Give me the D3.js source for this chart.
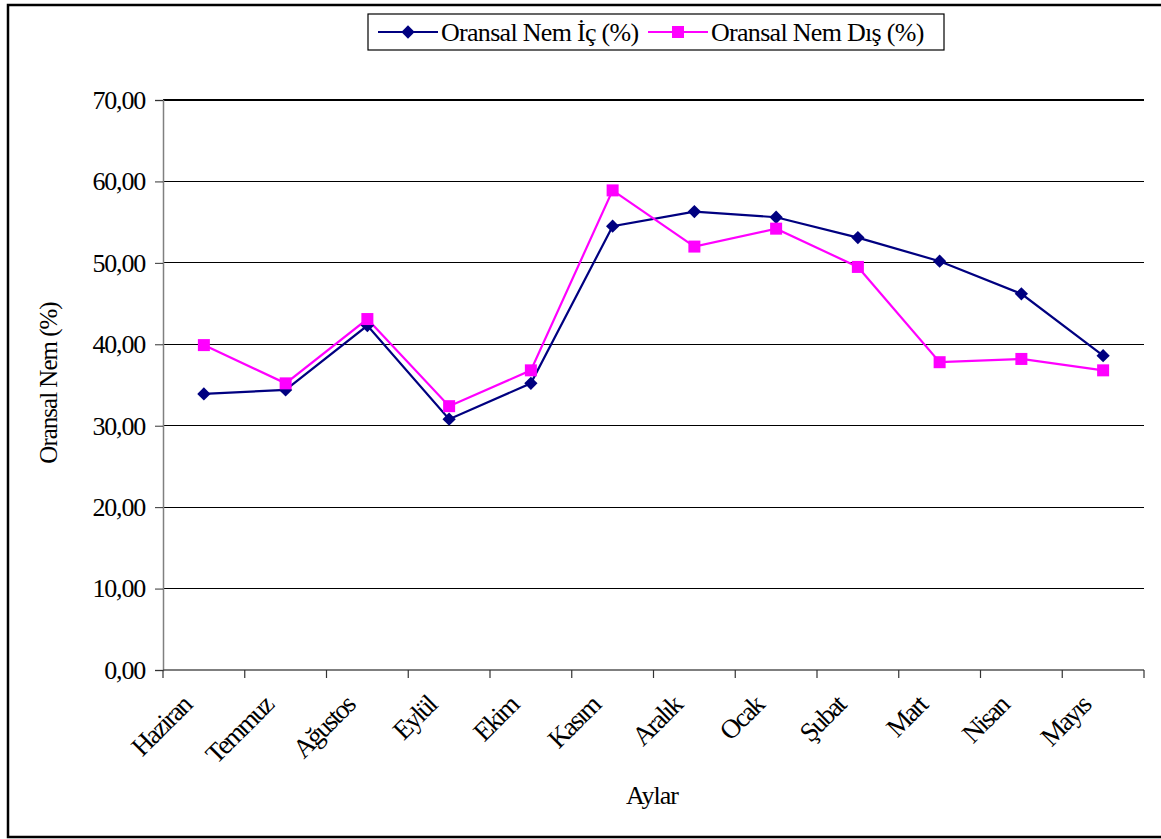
<!DOCTYPE html>
<html><head><meta charset="utf-8">
<script src="https://cdn.jsdelivr.net/npm/d3@7"></script>
<style>
html,body{margin:0;padding:0;background:#fff;}
svg{display:block;}
text{font-family:"Liberation Serif","Times New Roman",serif;fill:#000;}
</style></head>
<body>
<svg id="c" width="1161" height="839"></svg>
<script>
const months = ["Haziran","Temmuz","Ağustos","Eylül","Ekim","Kasım","Aralık","Ocak","Şubat","Mart","Nisan","Mayıs"];
const icValues = [33.9,34.4,42.3,30.8,35.2,54.5,56.3,55.6,53.1,50.2,46.2,38.6];
const disValues = [39.9,35.2,43.1,32.4,36.8,58.9,52.0,54.2,49.5,37.8,38.2,36.8];
const yTicks = [0,10,20,30,40,50,60,70];
const seriesNames = ["Oransal Nem İç (%)","Oransal Nem Dış (%)"];
const xTitle = "Aylar";
const yTitle = "Oransal Nem (%)";

const svg = d3.select("#c");
const L = 163, R = 1144, T = 100, B = 670;
const x = d3.scaleBand().domain(months).range([L, R]).padding(0);
const y = d3.scaleLinear().domain([0, 70]).range([B, T]);
const fmt = v => d3.format(".2f")(v).replace(".", ",");

// outer frame
svg.append("rect").attr("x", 8).attr("y", 5).attr("width", 1170).attr("height", 832)
  .attr("fill", "none").attr("stroke", "#000").attr("stroke-width", 2.5);

// gridlines
svg.append("g").selectAll("line").data(yTicks.filter(d => d > 0)).join("line")
  .attr("x1", L).attr("x2", R).attr("y1", d => y(d)).attr("y2", d => y(d))
  .attr("stroke", "#000").attr("stroke-width", 1.2).attr("shape-rendering", "crispEdges");

// y axis
const yAxis = d3.axisLeft(y).tickValues(yTicks).tickFormat(fmt).tickSize(8).tickPadding(10);
const gy = svg.append("g").attr("transform", `translate(${L},0)`).call(yAxis);
gy.select(".domain").attr("stroke", "#808080").attr("stroke-width", 1.5);
gy.selectAll(".tick line").attr("stroke", "#333");
gy.selectAll(".tick text").attr("font-size", 26).attr("font-family", "Liberation Serif").attr("fill", "#000")
  .attr("letter-spacing", -1.2);

// x axis line and ticks (at band boundaries)
svg.append("line").attr("x1", L).attr("x2", R).attr("y1", B).attr("y2", B)
  .attr("stroke", "#555").attr("stroke-width", 1.5);
const bounds = months.map(m => x(m)).concat([x.range()[1]]);
svg.append("g").selectAll("line").data(bounds).join("line")
  .attr("x1", d => d).attr("x2", d => d).attr("y1", B).attr("y2", B + 8)
  .attr("stroke", "#333").attr("stroke-width", 1.2);

// x labels
svg.append("g").selectAll("text").data(months).join("text")
  .attr("transform", d => `translate(${x(d) + x.bandwidth() / 2 - 11},${B + 37}) rotate(-45)`)
  .attr("text-anchor", "end").attr("font-size", 27).attr("letter-spacing", -2)
  .text(d => d);

// axis titles
svg.append("text").attr("x", 652).attr("y", 804)
  .attr("text-anchor", "middle").attr("font-size", 26).attr("letter-spacing", -1).text(xTitle);
svg.append("text").attr("transform", "translate(57,383) rotate(-90)")
  .attr("text-anchor", "middle").attr("font-size", 25).attr("letter-spacing", -1).text(yTitle);

// lines
const cx = m => x(m) + x.bandwidth() / 2;
const lineGen = vals => d3.line().x((d, i) => cx(months[i])).y(d => y(d))(vals);
svg.append("path").attr("d", lineGen(icValues)).attr("fill", "none").attr("stroke", "#000080").attr("stroke-width", 2.2);
svg.append("path").attr("d", lineGen(disValues)).attr("fill", "none").attr("stroke", "#FF00FF").attr("stroke-width", 2.2);

const diamond = d3.symbol().type(d3.symbolSquare).size(88);
svg.append("g").selectAll("path").data(icValues).join("path")
  .attr("d", diamond())
  .attr("transform", (d, i) => `translate(${cx(months[i])},${y(d)}) rotate(45)`)
  .attr("fill", "#000080");
svg.append("g").selectAll("rect").data(disValues).join("rect")
  .attr("x", (d, i) => cx(months[i]) - 6).attr("y", d => y(d) - 6)
  .attr("width", 12).attr("height", 12).attr("fill", "#FF00FF");

// legend
const lg = svg.append("g");
lg.append("rect").attr("x", 368).attr("y", 14).attr("width", 576).attr("height", 36)
  .attr("fill", "#fff").attr("stroke", "#000").attr("stroke-width", 1.2);
const legendItems = [
  {name: seriesNames[0], color: "#000080", type: "diamond", x0: 378},
  {name: seriesNames[1], color: "#FF00FF", type: "square", x0: 648}
];
legendItems.forEach(it => {
  lg.append("line").attr("x1", it.x0).attr("x2", it.x0 + 60).attr("y1", 32).attr("y2", 32)
    .attr("stroke", it.color).attr("stroke-width", 2.2);
  if (it.type === "diamond") {
    lg.append("path").attr("d", diamond()).attr("transform", `translate(${it.x0 + 30},32) rotate(45)`).attr("fill", it.color);
  } else {
    lg.append("rect").attr("x", it.x0 + 30 - 6).attr("y", 26).attr("width", 12).attr("height", 12).attr("fill", it.color);
  }
  lg.append("text").attr("x", it.x0 + 63).attr("y", 41).attr("font-size", 26).attr("letter-spacing", -0.7).text(it.name);
});
</script>
</body></html>
